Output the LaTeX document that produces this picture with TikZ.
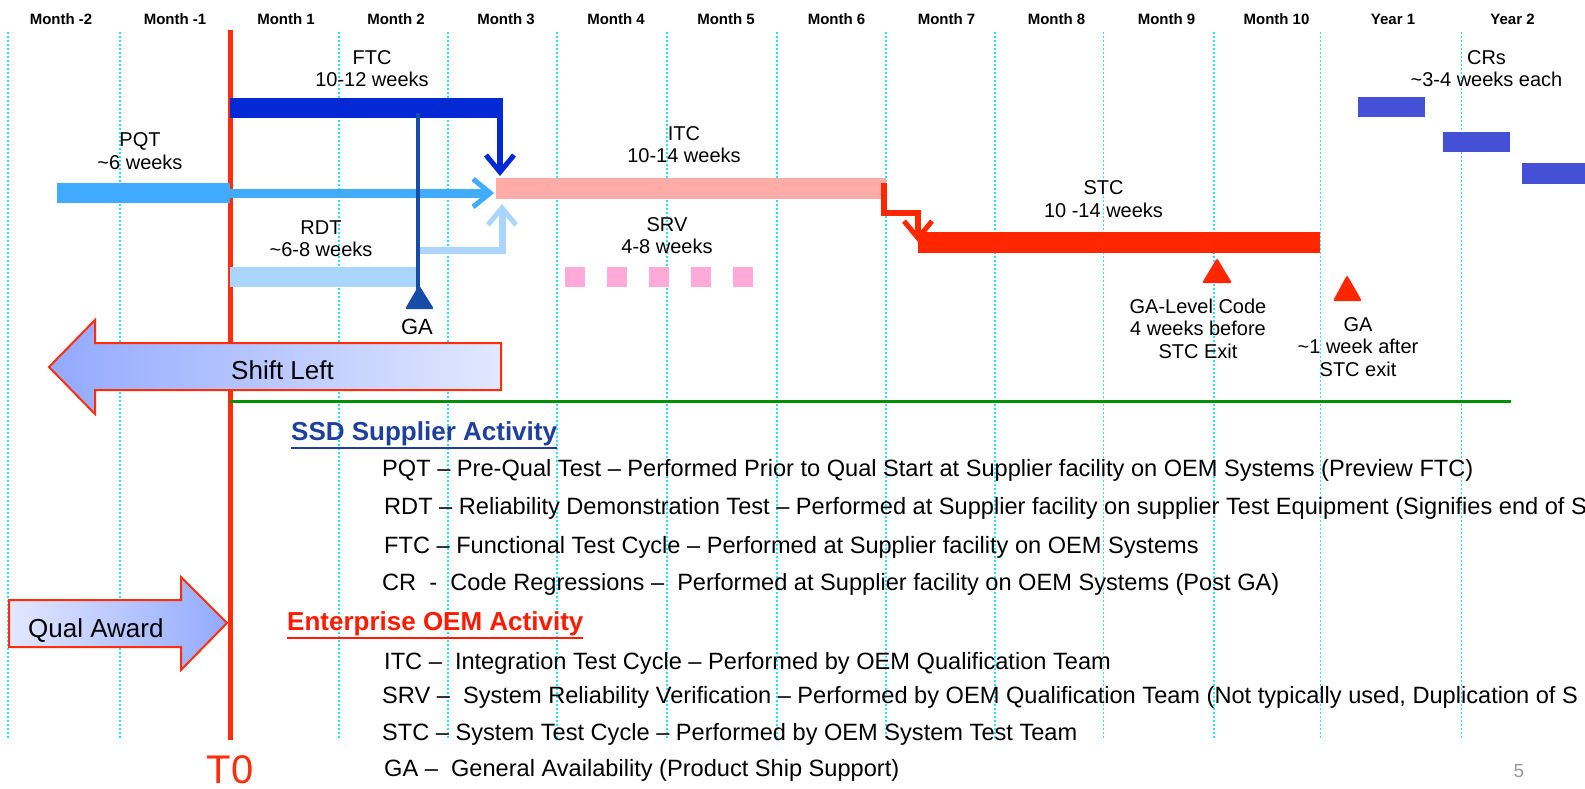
\documentclass[tikz,border=0pt]{standalone}
\usepackage{fontspec}
\setmainfont{Liberation Sans}
\usetikzlibrary{arrows.meta}

\newcommand{\thickul}[1]{\leavevmode\vtop{\hbox{#1}\kern2pt\hrule height 2pt}}

\tikzset{
  gridline/.style={draw=gridcol, line width=1.6pt, dash pattern=on 2pt off 2pt},
  month/.style={font=\fontsize{15}{18}\selectfont\bfseries, anchor=base, inner sep=0pt},
  tag/.style={font=\fontsize{20}{22.5}\selectfont, align=center, inner sep=0pt},
  body/.style={font=\fontsize{23.6}{26}\selectfont, anchor=base west, inner sep=0pt},
  head/.style={font=\fontsize{26}{30}\selectfont\bfseries, anchor=base west, inner sep=0pt},
  barb/.style={-{Straight Barb[length=17pt, width=28pt, line width=5pt]}},
  blockarrow/.style={draw=t0col, line width=2pt},
  milestone/.style={rounded corners=2pt}
}

\begin{document}
\begin{tikzpicture}[x=1pt, y=-1pt]
\definecolor{gridcol}{HTML}{1EE6FF}
\definecolor{t0col}{HTML}{FF2D0A}
\definecolor{ftccol}{HTML}{0329D4}
\definecolor{gacol}{HTML}{164BA8}
\definecolor{pqtcol}{HTML}{40ABFF}
\definecolor{rdtcol}{HTML}{A9D5FF}
\definecolor{itccol}{HTML}{FFACA6}
\definecolor{srvcol}{HTML}{FFAAD8}
\definecolor{stccol}{HTML}{FF2600}
\definecolor{crcol}{HTML}{4450D6}
\definecolor{linecol}{HTML}{008F00}
\definecolor{suppcol}{HTML}{1E3F9E}
\definecolor{oemcol}{HTML}{FF1A00}
\definecolor{shadeA}{HTML}{93A9FF}
\definecolor{shadeB}{HTML}{E2E8FF}
\useasboundingbox (0,0) rectangle (1585,789);

% month grid
\foreach \x in {8,120,339,448,557,667,777,886,995,1103.5,1214,1320.5,1461.5}
  \draw[gridline] (\x,32) -- (\x,740);
\foreach \x/\t [count=\i] in {61/Month -2, 175/Month -1, 286/Month 1, 396/Month 2, 506/Month 3,
    616/Month 4, 726/Month 5, 836.5/Month 6, 946.5/Month 7, 1056.5/Month 8, 1166.5/Month 9,
    1276.5/Month 10, 1393/Year 1, 1512.5/Year 2}
  \node[month] (m\i) at (\x,25) {\t};

% T0
\draw[t0col, line width=5pt] (230,30) -- (230,740);
\node[font=\fontsize{40}{44}\selectfont, text=t0col, anchor=base, inner sep=0pt] (t0) at (230,783) {T0};

% bars
\fill[ftccol] (230,98) rectangle (503,118);
\fill[pqtcol] (57,183) rectangle (230,203);
\fill[rdtcol] (230,267) rectangle (420,287);
\fill[itccol] (496,178) rectangle (886,199);
\fill[stccol] (918,232) rectangle (1320,253);
\foreach \i in {0,...,4}
  \fill[srvcol] (565+42*\i,267) rectangle (585+42*\i,287);
\fill[crcol] (1358,97) rectangle (1425,117);
\fill[crcol] (1443,132) rectangle (1510,152);
\fill[crcol] (1521.5,163) rectangle (1600,184);

% hand-over points
\coordinate (pqtE) at (230,193);
\coordinate (itcW) at (494,193);
\coordinate (ftcE) at (500,108);
\coordinate (itcTop) at (500,176);
\coordinate (rdtE) at (420,250);
\coordinate (itcBot) at (502,204);
\coordinate (itcE) at (884,183);
\coordinate (stcKnee) at (918,213);
\coordinate (stcTop) at (918,242);

\draw[pqtcol, line width=9pt, barb] (pqtE) -- (itcW);
\draw[ftccol, line width=6pt, barb] (ftcE) -- (itcTop);
\draw[rdtcol, line width=7pt, barb] (rdtE) -| (itcBot);
\draw[stccol, line width=6pt, barb] (itcE) |- (stcKnee) -- (stcTop);

% GA from supplier
\draw[gacol, line width=4pt] (418,113) -- (418,292);
\fill[gacol, milestone] (405,309) -- (419,285) -- (434,309) -- cycle;
\node[font=\fontsize{22}{26}\selectfont, inner sep=0pt] (gasup) at (417,327) {GA};

% OEM milestones
\fill[stccol, milestone] (1202,283) -- (1217,258) -- (1232,283) -- cycle;
\fill[stccol, milestone] (1333,301) -- (1347,275) -- (1362,301) -- cycle;

% bar labels
\node[tag] (ftc) at (372,68.5) {FTC\\10-12 weeks};
\node[tag] (pqt) at (140,151) {PQT\\\textasciitilde6 weeks};
\node[tag] (itc) at (684,144.5) {ITC\\10-14 weeks};
\node[tag] (rdt) at (321,238.5) {RDT\\\textasciitilde6-8 weeks};
\node[tag] (srv) at (667,235.5) {SRV\\4-8 weeks};
\node[tag] (stc) at (1103.5,199) {STC\\10 -14 weeks};
\node[tag] (crs) at (1486.5,68.5) {CRs\\\textasciitilde3-4 weeks each};
\node[tag] (galevel) at (1198,328.5) {GA-Level Code\\4 weeks before\\STC Exit};
\node[tag] (gaoem) at (1358,347) {GA\\\textasciitilde1 week after\\STC exit};

% block arrows
\shade[left color=shadeA, right color=shadeB, blockarrow]
  (501,343) -- (95,343) -- (95,320) -- (49,367) -- (95,414) -- (95,390) -- (501,390) -- cycle;
\node[font=\fontsize{26}{30}\selectfont, anchor=base west, inner sep=0pt] (shift) at (231,379) {Shift Left};
\shade[left color=shadeB, right color=shadeA, blockarrow]
  (9,600) -- (181,600) -- (181,577) -- (227,623) -- (181,670) -- (181,647) -- (9,647) -- cycle;
\node[font=\fontsize{26}{30}\selectfont, anchor=base west, inner sep=0pt] (qual) at (28,637) {Qual Award};

\draw[linecol, line width=3pt] (230,401) -- (1511,401);

% legend
\node[head, text=suppcol] (supp) at (291,440) {\thickul{SSD Supplier Activity}};
\node[body] (lpqt) at (382,476) {PQT – Pre-Qual Test – Performed Prior to Qual Start at Supplier facility on OEM Systems (Preview FTC)};
\node[body] (lrdt) at (384,514) {RDT – Reliability Demonstration Test – Performed at Supplier facility on supplier Test Equipment (Signifies end of S};
\node[body] (lftc) at (384,553) {FTC – Functional Test Cycle – Performed at Supplier facility on OEM Systems};
\node[body] (lcr) at (382,590) {CR\ \ -\ \ Code Regressions –\ \ Performed at Supplier facility on OEM Systems (Post GA)};
\node[head, text=oemcol] (oem) at (287,630) {\thickul{Enterprise OEM Activity}};
\node[body] (litc) at (384,669) {ITC –\ \ Integration Test Cycle – Performed by OEM Qualification Team};
\node[body] (lsrv) at (382,703) {SRV –\ \ System Reliability Verification – Performed by OEM Qualification Team (Not typically used, Duplication of S};
\node[body] (lstc) at (382,740) {STC – System Test Cycle – Performed by OEM System Test Team};
\node[body] (lga) at (384,776) {GA –\ \ General Availability (Product Ship Support)};

\node[font=\fontsize{19}{22}\selectfont, text=black!40, anchor=base, inner sep=0pt] (page) at (1519,777) {5};
\end{tikzpicture}
\end{document}
